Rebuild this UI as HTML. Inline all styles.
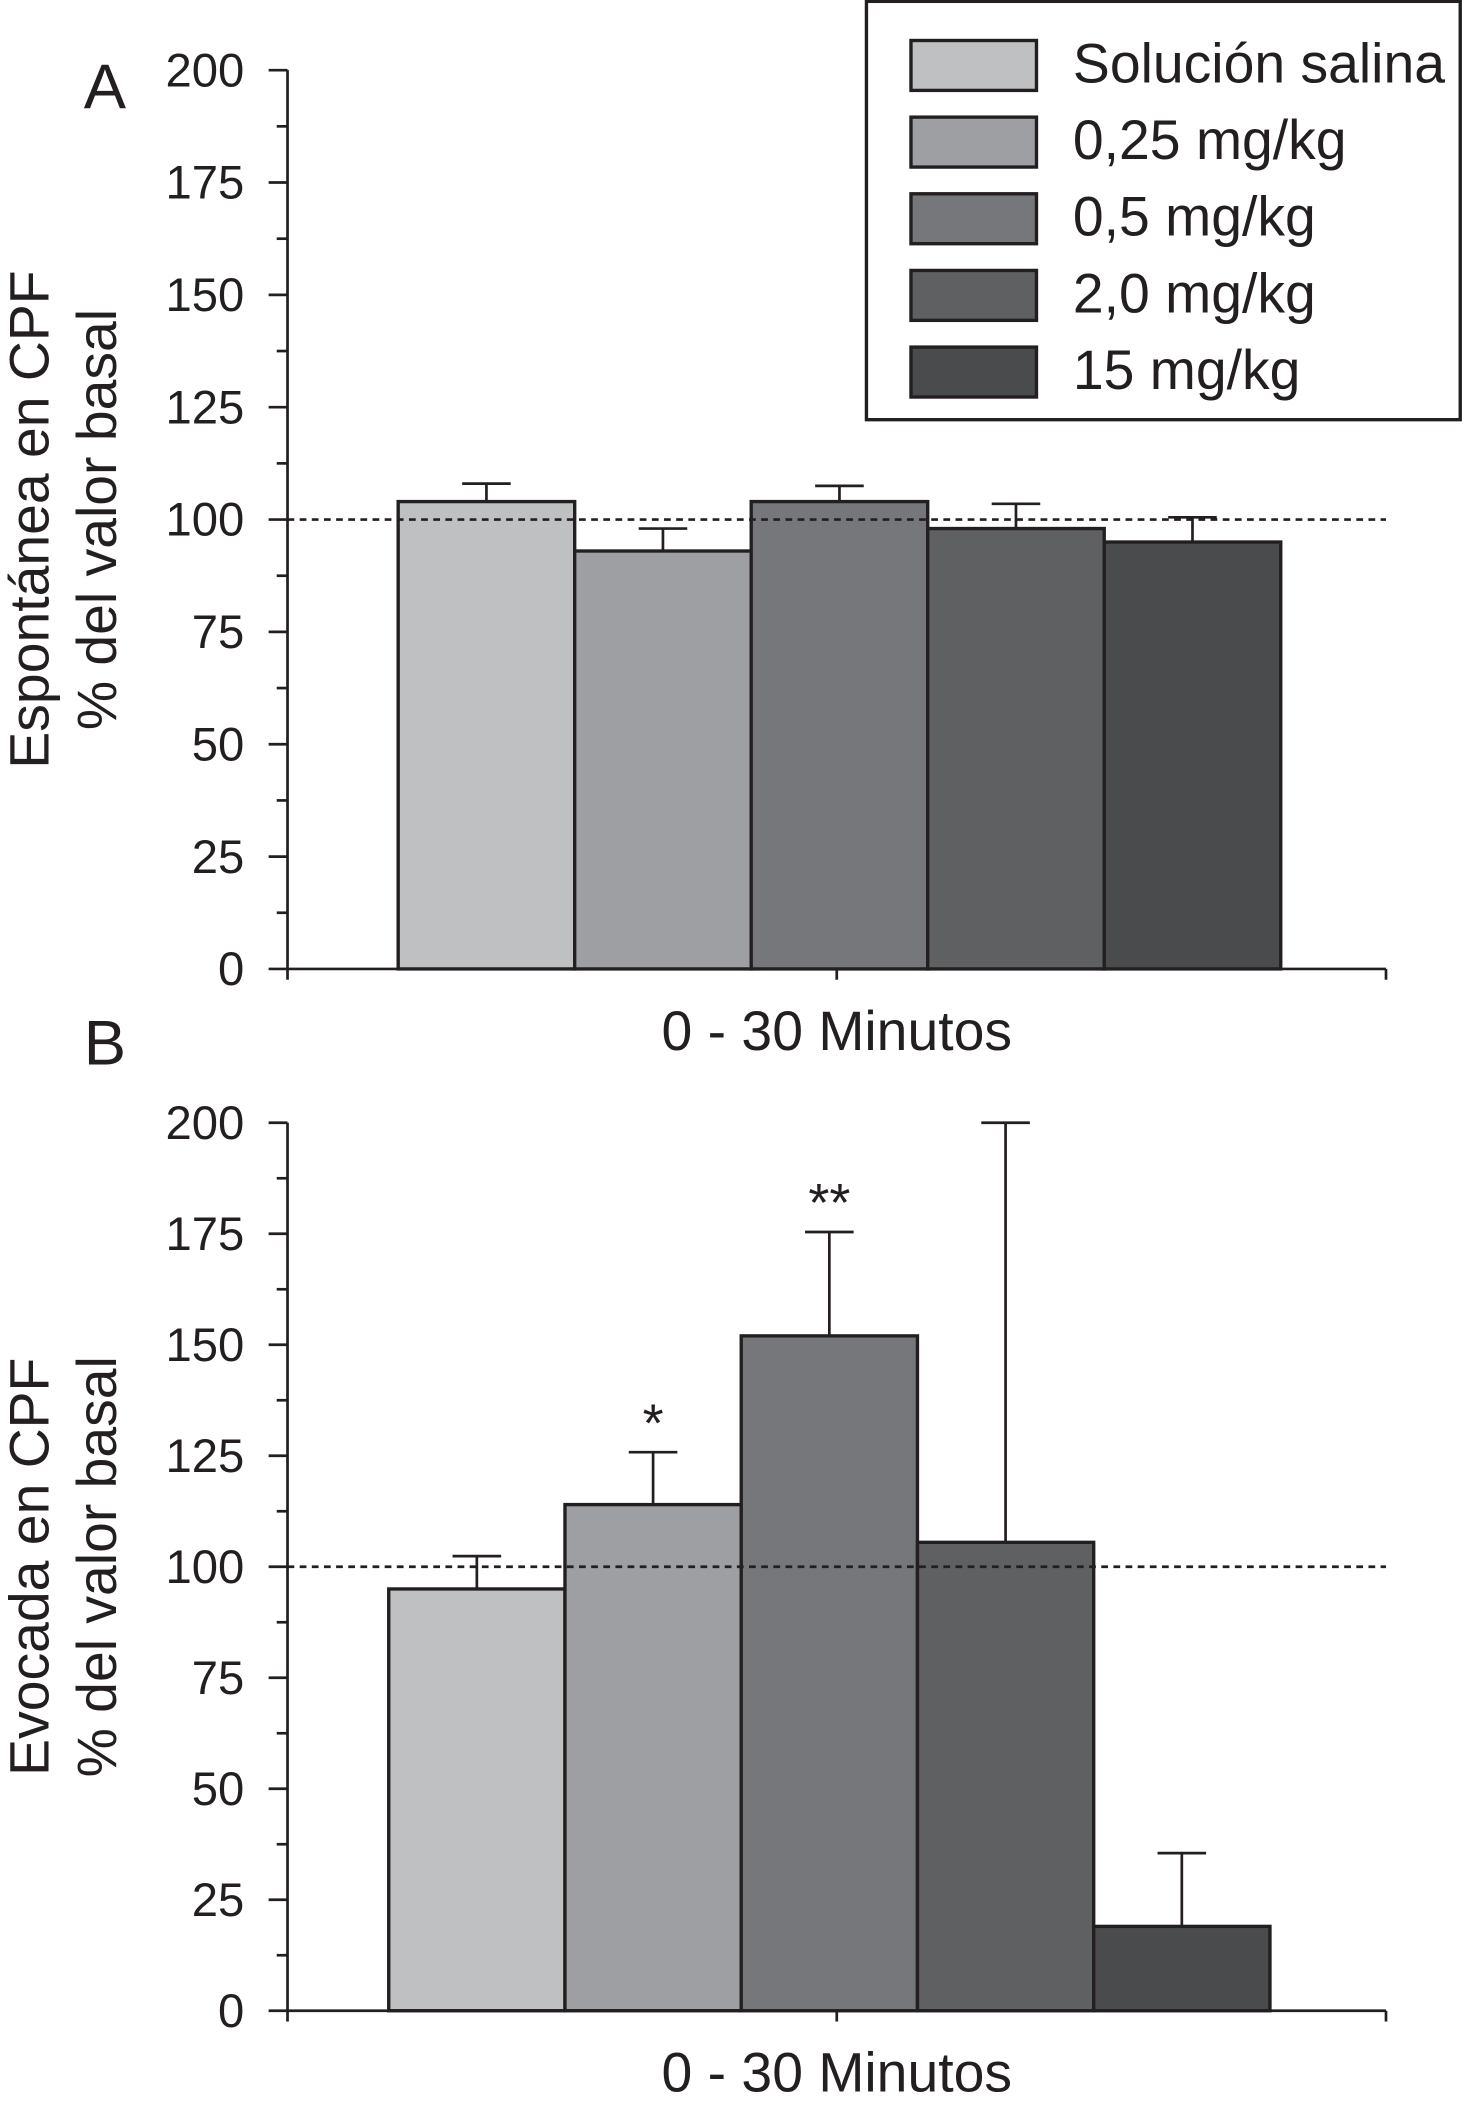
<!DOCTYPE html>
<html><head><meta charset="utf-8"><style>
html,body{margin:0;padding:0;background:#fff}
svg{display:block}
text{font-family:"Liberation Sans",Arial,sans-serif;fill:#231f20}
</style></head><body>
<svg width="1463" height="2116" viewBox="0 0 1084 1568" xmlns="http://www.w3.org/2000/svg">
<g id="legend"></g>
<g id="panelA"></g>
<g id="panelB"></g>
</svg>
<script>
const groups = ["Solución salina","0,25 mg/kg","0,5 mg/kg","2,0 mg/kg","15 mg/kg"];
const colors = ["#bfc0c2","#9d9fa2","#76777a","#5f6062","#4a4b4d"];
const valuesA = [104,93,104,98,95];
const errorsA = [108,98,107.5,103.5,100.5];
const valuesB = [95,114,152,105.5,19];
const errorsB = [102.4,125.8,175.4,200,35.5];
const sigB = ["","*","**","",""];
const yTicks = [0,25,50,75,100,125,150,175,200];
const NS="http://www.w3.org/2000/svg";
function mk(parent,tag,attrs,txt){const e=document.createElementNS(NS,tag);for(const k in attrs)e.setAttribute(k,attrs[k]);if(txt!==undefined)e.textContent=txt;parent.appendChild(e);return e;}

function drawPanel(g,cfg){
  const y=v=>cfg.y0-(v/200)*(cfg.y0-cfg.y200);
  const ax=213;
  const yl=mk(g,'line',{x1:ax,y1:cfg.y200,x2:ax,y2:cfg.y0,stroke:'#231f20','stroke-width':2});
  
  
  for(let v=0;v<=200;v+=12.5){
    const major=v%25===0;
    mk(g,'line',{x1:major?ax-14:ax-8,y1:y(v),x2:ax,y2:y(v),stroke:'#231f20','stroke-width':2});
  }
  yTicks.forEach(v=>{
    const t=mk(g,'text',{x:ax-32,y:y(v)+12,'text-anchor':'end','font-size':35},String(v));
    
    
  });
  cfg.vals.forEach((v,i)=>{
    const x0=cfg.bx+i*cfg.bw;
    const ex=x0+cfg.bw/2;
    const el=mk(g,'line',{x1:ex,y1:y(v),x2:ex,y2:y(cfg.errs[i]),stroke:'#231f20','stroke-width':2});
    
    
    mk(g,'line',{x1:ex-18,y1:y(cfg.errs[i]),x2:ex+18,y2:y(cfg.errs[i]),stroke:'#231f20','stroke-width':2});
    const r=mk(g,'rect',{x:x0,y:y(v),width:cfg.bw,height:cfg.y0-y(v),fill:colors[i],stroke:'#231f20','stroke-width':2.5});
    
    
    if(cfg.sig&&cfg.sig[i]){
      const s=mk(g,'text',{x:ex,y:y(cfg.errs[i])-8,'text-anchor':'middle','font-size':40},cfg.sig[i]);
      
      
    }
  });
  const d=mk(g,'line',{x1:ax,y1:y(100),x2:1027,y2:y(100),stroke:'#231f20','stroke-width':2,'stroke-dasharray':'5,4'});
  
  
  const xl=mk(g,'line',{x1:ax,y1:cfg.y0,x2:1027,y2:cfg.y0,stroke:'#231f20','stroke-width':2});
  
  
  [ax,620,1027].forEach(x=>mk(g,'line',{x1:x,y1:cfg.y0,x2:x,y2:cfg.y0+8,stroke:'#231f20','stroke-width':2}));
  const xt=mk(g,'text',{x:620,y:cfg.y0+60,'text-anchor':'middle','font-size':41},'0 - 30 Minutos');
  
  
  const pl=mk(g,'text',{x:cfg.lx,y:cfg.ly,'font-size':47},cfg.letter);
  
  
  const cy=(cfg.y0+cfg.y200)/2;
  const t1=mk(g,'text',{x:0,y:0,'text-anchor':'middle','font-size':41,transform:`translate(36,${cy}) rotate(-90)`},cfg.t1);
  
  
  const t2=mk(g,'text',{x:0,y:0,'text-anchor':'middle','font-size':41,transform:`translate(86,${cy}) rotate(-90)`},'% del valor basal');
  
  
}
drawPanel(document.getElementById('panelA'),{y0:718,y200:52,bx:295,bw:130.8,vals:valuesA,errs:errorsA,letter:'A',lx:62,ly:80,t1:'Espontánea en CPF'});
drawPanel(document.getElementById('panelB'),{y0:1490,y200:832,bx:288,bw:130.6,vals:valuesB,errs:errorsB,sig:sigB,letter:'B',lx:62,ly:789,t1:'Evocada en CPF'});
const lg=document.getElementById('legend');
mk(lg,'rect',{x:642,y:1,width:440,height:310,fill:'#fff',stroke:'#231f20','stroke-width':2.5});
groups.forEach((n,i)=>{
  const cy=48+i*56.8;
  const sw=mk(lg,'rect',{x:675,y:cy-18,width:93,height:37,fill:colors[i],stroke:'#231f20','stroke-width':2.5});
  
  
  const t=mk(lg,'text',{x:795,y:cy+13,'font-size':41},n);
  
  
});
</script>
</body></html>
